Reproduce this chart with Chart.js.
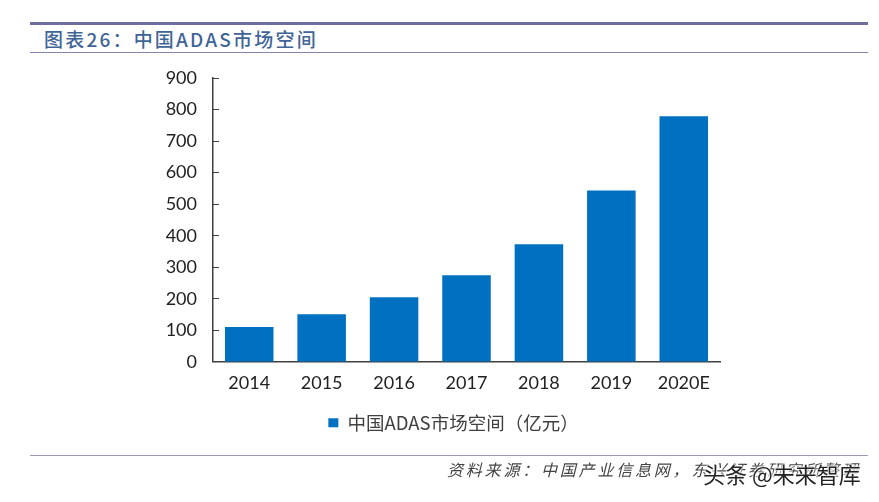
<!DOCTYPE html>
<html>
<head>
<meta charset="utf-8">
<script src="https://cdn.jsdelivr.net/npm/chart.js@4"></script>
<style>
  html, body { margin: 0; padding: 0; background: #fff; }
  #wrap { position: relative; width: 879px; height: 502px; overflow: hidden; font-family: "Noto Sans CJK SC", sans-serif; }
  canvas { position: absolute; left: 0; top: 0; }
  .rule { position: absolute; left: 30px; width: 838px; }
  #title { position: absolute; left: 44px; top: 25px; font-size: 19px; font-weight: 500; line-height: 28px; color: #3f6596; letter-spacing: 2.2px; white-space: nowrap; }
  #source { position: absolute; left: 447px; top: 458px; font-size: 16px; line-height: 22px; color: #444; font-style: italic; letter-spacing: 2.8px; white-space: nowrap; }
  #mark { position: absolute; left: 703px; top: 458px; font-size: 22px; line-height: 30px; color: #222; white-space: nowrap; text-shadow: 0 0 2px #fff, 0 0 2px #fff, 0 0 3px #fff, 0 0 3px #fff; }
</style>
</head>
<body>
<div id="wrap">
  <div class="rule" style="top:22px;height:3px;background:#6f6f9f"></div>
  <div class="rule" style="top:52px;height:1px;background:#8585b0"></div>
  <div id="title">图表26：中国ADAS市场空间</div>
  <canvas id="chart" width="879" height="502"></canvas>
  <div class="rule" style="top:455px;height:1px;background:#9a9ab5"></div>
  <div id="source">资料来源：中国产业信息网，东兴证券研究所整理</div>
  <div id="mark">头条 @未来智库</div>
</div>
<script>
const categories = ["2014", "2015", "2016", "2017", "2018", "2019", "2020E"]
const marketSize = [111, 151, 205, 275, 373, 543, 779]
const seriesLabel = "中国ADAS市场空间（亿元）"
const yTicks = [0, 100, 200, 300, 400, 500, 600, 700, 800, 900]

Chart.defaults.font.family = '"Noto Sans CJK SC", sans-serif'
Chart.defaults.animation = false

// the legend sits centred under the plot, not under the wider axis box
const legendShift = {
  id: "legendShift",
  afterLayout(chart) {
    chart.legend.left += 16
    chart.legend.right += 16
  }
}

new Chart(document.getElementById("chart"), {
  type: "bar",
  data: {
    labels: categories,
    datasets: [{
      label: seriesLabel,
      data: marketSize,
      backgroundColor: "#0070c0",
      categoryPercentage: 0.67,
      barPercentage: 1
    }]
  },
  plugins: [legendShift],
  options: {
    responsive: false,
    layout: { padding: { left: 155, right: 159, top: 78, bottom: 60 } },
    plugins: {
      tooltip: { enabled: false },
      legend: {
        position: "bottom",
        labels: {
          usePointStyle: true,
          pointStyle: "rect",
          pointStyleWidth: 10,
          boxHeight: 9,
          color: "#404040",
          font: { size: 18.5 },
          padding: 10
        }
      }
    },
    scales: {
      x: {
        grid: { display: false, drawTicks: false },
        border: { color: "#404040", width: 1.5 },
        ticks: { color: "#222", font: { family: "Lato", size: 18 }, padding: 10, maxRotation: 0 }
      },
      y: {
        min: 0,
        max: 900,
        afterBuildTicks: (axis) => { axis.ticks = yTicks.map((value) => ({ value })) },
        afterFit: (axis) => { axis.width = 58 },
        // negative length turns the tick marks inward, as in the original
        grid: { display: true, drawOnChartArea: false, drawTicks: true, tickLength: -6, tickColor: "#404040" },
        border: { color: "#404040", width: 1.5 },
        ticks: { color: "#222", font: { family: "Lato", size: 18 }, padding: 22 }
      }
    }
  }
})
</script>
</body>
</html>
